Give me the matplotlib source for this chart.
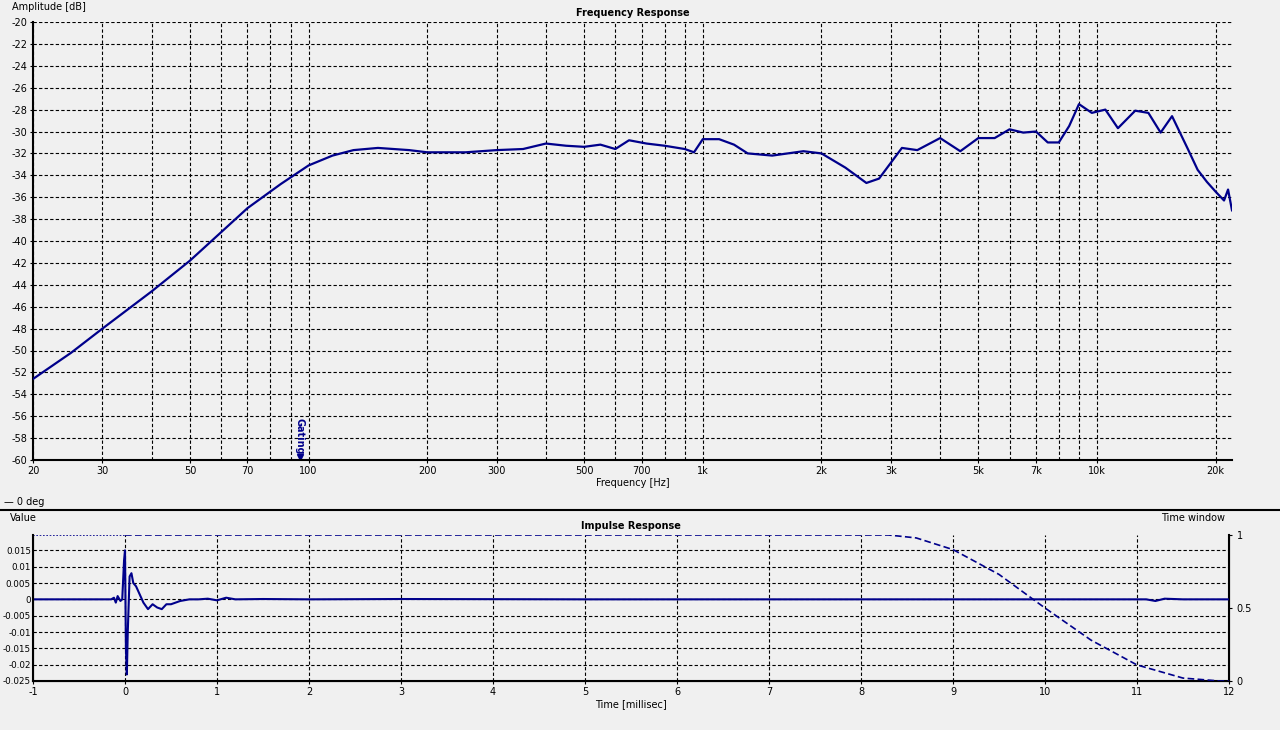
import numpy as np
import matplotlib
matplotlib.use("Agg")
import matplotlib.pyplot as plt
from matplotlib.ticker import FixedLocator, NullLocator

plt.rcParams["axes.unicode_minus"] = False

freq = [20, 25, 30, 40, 50, 60, 70, 85, 100, 115, 130, 150, 180, 200, 250, 300, 350, 400, 450, 500, 550, 600, 650, 720, 800, 900, 950, 1000, 1100, 1200, 1300, 1500, 1800, 2000, 2300, 2600, 2800, 3200, 3500, 4000, 4500, 5000, 5500, 6000, 6500, 7000, 7500, 8000, 8500, 9000, 9700, 10500, 11300, 12500, 13500, 14500, 15500, 17000, 18000, 19000, 20000, 21000, 21500, 22000]
amp = [-52.6, -50.2, -48.0, -44.6, -41.8, -39.2, -37.0, -34.8, -33.1, -32.2, -31.7, -31.5, -31.7, -31.9, -31.9, -31.7, -31.6, -31.1, -31.3, -31.4, -31.2, -31.6, -30.8, -31.1, -31.3, -31.6, -31.9, -30.7, -30.7, -31.2, -32.0, -32.2, -31.8, -32.0, -33.3, -34.7, -34.3, -31.5, -31.7, -30.6, -31.8, -30.6, -30.6, -29.8, -30.1, -30.0, -31.0, -31.0, -29.5, -27.5, -28.3, -28.0, -29.7, -28.1, -28.3, -30.1, -28.6, -31.6, -33.5, -34.6, -35.5, -36.3, -35.3, -37.2]

t_ir = [-1.0, -0.15, -0.12, -0.1, -0.08, -0.05, -0.03, -0.01, 0.0, 0.01, 0.02, 0.03, 0.05, 0.07, 0.09, 0.12, 0.16, 0.2, 0.25, 0.3, 0.35, 0.4, 0.45, 0.5, 0.6, 0.7, 0.8, 0.9, 1.0, 1.1, 1.2, 1.5, 2.0, 3.0, 5.0, 8.0, 11.1, 11.2, 11.3, 11.5, 12.0]
v_ir = [0.0, 0.0, 0.0005, -0.001, 0.001, -0.0005, 0.0, 0.012, 0.015, -0.015, -0.023, -0.01, 0.007, 0.008, 0.005, 0.004, 0.0015, -0.001, -0.003, -0.0015, -0.0025, -0.003, -0.0015, -0.0015, -0.0005, 0.0, 0.0, 0.0002, -0.0003, 0.0005, 0.0, 0.0001, 0.0, 0.0001, 0.0, 0.0, 0.0, -0.0005, 0.0002, 0.0, 0.0]

t_win = [-1.0, 8.3, 8.6, 9.0, 9.5, 10.0, 10.5, 11.0, 11.5, 11.9, 12.0]
v_win = [1.0, 1.0, 0.98, 0.9, 0.73, 0.5, 0.28, 0.11, 0.02, 0.0, 0.0]

fticks = [20, 30, 50, 70, 100, 200, 300, 500, 700, 1000, 2000, 3000, 5000, 7000, 10000, 20000]
flabels = ["20", "30", "50", "70", "100", "200", "300", "500", "700", "1k", "2k", "3k", "5k", "7k", "10k", "20k"]
ir_ticks = [0.015, 0.01, 0.005, 0, -0.005, -0.01, -0.015, -0.02, -0.025]
ir_labels = ["0.015", "0.01", "0.005", "0", "-0.005", "-0.01", "-0.015", "-0.02", "-0.025"]

BG = "#f0f0f0"
C = "#00008b"
fs = 7
fig = plt.figure(figsize=(12.8, 7.3), dpi=100, facecolor=BG)

W, H = 1280, 730
def rect(l, t, r, b):
    return [l / W, 1 - b / H, (r - l) / W, (b - t) / H]

ax = fig.add_axes(rect(33, 22, 1232, 460), facecolor=BG)
ax.set_xscale("log")
ax.set_xlim(20, 22000)
ax.set_ylim(-60, -20)
grid = [m * 10 ** e for e in range(1, 5) for m in range(1, 10) if 20 <= m * 10 ** e <= 22000]
ax.xaxis.set_major_locator(FixedLocator(fticks))
ax.set_xticklabels(flabels)
ax.xaxis.set_minor_locator(NullLocator())
ax.set_yticks(range(-60, -19, 2))
for g in grid:
    ax.axvline(g, color="black", ls=(0, (3, 2)), lw=0.8, zorder=1)
for y in range(-58, -19, 2):
    ax.axhline(y, color="black", ls=(0, (3, 2)), lw=0.8, zorder=1)
ax.plot(freq, amp, color=C, lw=1.6, zorder=3)
ax.tick_params(labelsize=fs, length=2, pad=2)
for s in ["top", "right"]:
    ax.spines[s].set_visible(False)
ax.spines["left"].set_linewidth(1.5)
ax.spines["bottom"].set_linewidth(1.5)
ax.set_title("Frequency Response", fontsize=fs, fontweight="bold", pad=4)
ax.set_xlabel("Frequency [Hz]", fontsize=fs, labelpad=2)
fig.text(12 / W, 1 - 7 / H, "Amplitude [dB]", fontsize=fs, va="center")
ax.text(95, -59.5, "Gating", rotation=270, color=C, fontsize=7, fontweight="bold", ha="center", va="bottom")
ax.plot([95], [-59.7], marker="v", color=C, ms=5, clip_on=False)

fig.text(4 / W, 1 - 502 / H, "\u2014 0 deg", fontsize=fs, va="center", color="black")
fig.add_artist(plt.Line2D([0, 1], [1 - 510 / H] * 2, color="black", lw=1.5))

bx = fig.add_axes(rect(33, 535, 1229, 681), facecolor=BG)
bx.set_xlim(-1, 12)
bx.set_ylim(-0.0245, 0.0197)
bx.set_xticks(range(-1, 13))
bx.set_yticks(ir_ticks)
bx.set_yticklabels(ir_labels)
for x in range(0, 13):
    bx.axvline(x, color="black", ls=(0, (3, 2)), lw=0.8, zorder=1)
for y in ir_ticks[:-1]:
    bx.axhline(y, color="black", ls=(0, (3, 2)), lw=0.8, zorder=1)
bx.plot(t_ir, v_ir, color=C, lw=1.5, zorder=3)
bx.tick_params(axis="x", labelsize=fs, length=2, pad=2)
bx.tick_params(axis="y", labelsize=6.3, length=1, pad=0.5)
bx.spines["top"].set_visible(False)
bx.spines["left"].set_linewidth(1.5)
bx.spines["bottom"].set_linewidth(1.5)
bx.spines["right"].set_linewidth(1.5)
bx.set_title("Impulse Response", fontsize=fs, fontweight="bold", pad=4)
bx.set_xlabel("Time [millisec]", fontsize=fs, labelpad=2)
fig.text(10 / W, 1 - 518 / H, "Value", fontsize=fs, va="center")
fig.text(1225 / W, 1 - 518 / H, "Time window", fontsize=fs, va="center", ha="right")

rx = bx.twinx()
rx.set_ylim(0, 1)
rx.set_yticks([0, 0.5, 1])
rx.set_yticklabels(["0", "0.5", "1"])
rx.tick_params(labelsize=fs, length=2)
rx.spines["top"].set_visible(False)
rx.plot(t_win[:1] + [0.0], v_win[:1] * 2, color=C, lw=1.2, ls=(0, (1, 1)))
rx.plot([0.0] + t_win[1:], [1.0] + v_win[1:], color=C, lw=1.2, ls=(0, (4, 2)))

fig.savefig("out.png", dpi=100, facecolor=BG)
